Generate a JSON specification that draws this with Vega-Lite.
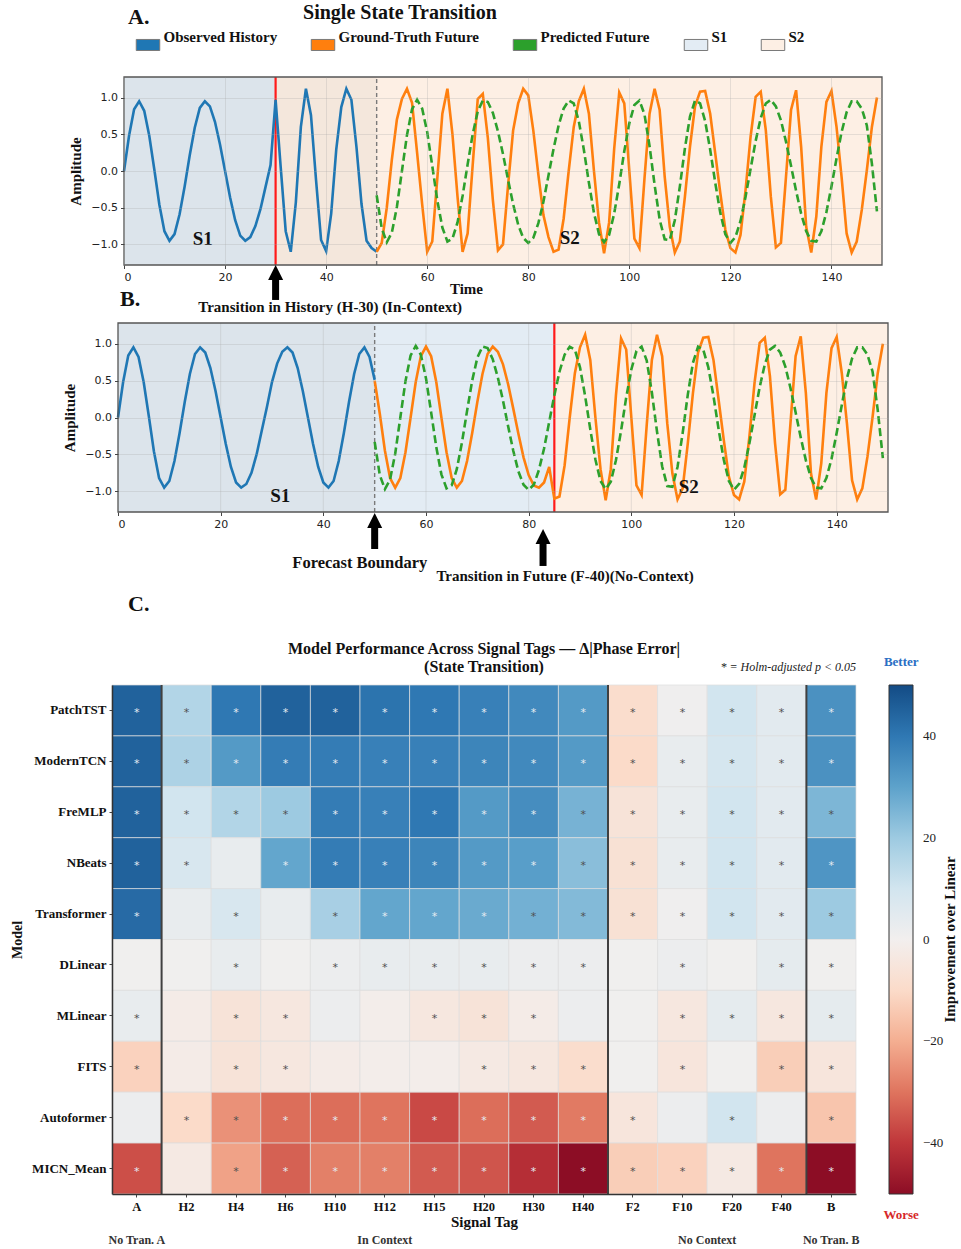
{
  "$schema": "https://vega.github.io/schema/vega-lite/v6.json",
  "background": "white",
  "padding": {"left": 10, "top": 2, "right": 4, "bottom": 4},
  "config": {"view": {"stroke": null}, "font": "Liberation Serif"},
  "bounds": "flush",
  "spacing": 58,
  "resolve": {
    "scale": {"x": "independent", "y": "independent", "color": "independent", "fill": "independent"},
    "legend": {"fill": "independent", "color": "independent"}
  },
  "datasets": {
    "statesA": [{"state": "S1", "start": 0, "end": 30}, {"state": "S2", "start": 30, "end": 150}],
    "statesB": [{"state": "S1", "start": 0, "end": 85}, {"state": "S2", "start": 85, "end": 150}],
    "ticksB": [{"t": 20}, {"t": 40}, {"t": 60}, {"t": 80}, {"t": 100}, {"t": 120}, {"t": 140}],
    "histA": [
      {"t":0,"v":0},{"t":1,"v":0.48},{"t":2,"v":0.84},{"t":3,"v":0.95},{"t":4,"v":0.82},{"t":5,"v":0.48},{"t":6,"v":0.02},{"t":7,"v":-0.46},{"t":8,"v":-0.82},{"t":9,"v":-0.95},
      {"t":10,"v":-0.86},{"t":11,"v":-0.59},{"t":12,"v":-0.21},{"t":13,"v":0.21},{"t":14,"v":0.59},{"t":15,"v":0.86},{"t":16,"v":0.95},{"t":17,"v":0.88},{"t":18,"v":0.67},{"t":19,"v":0.36},
      {"t":20,"v":0},{"t":21,"v":-0.36},{"t":22,"v":-0.67},{"t":23,"v":-0.88},{"t":24,"v":-0.95},{"t":25,"v":-0.9},{"t":26,"v":-0.75},{"t":27,"v":-0.52},{"t":28,"v":-0.22},{"t":29,"v":0.08},
      {"t":30,"v":0.97},{"t":31,"v":0.06},{"t":32,"v":-0.82},{"t":33,"v":-1.1},{"t":34,"v":-0.43},{"t":35,"v":0.6},{"t":36,"v":1.12},{"t":37,"v":0.76},{"t":38,"v":-0.12},{"t":39,"v":-0.94},
      {"t":40,"v":-1.09},{"t":41,"v":-0.58},{"t":42,"v":0.29},{"t":43,"v":0.87},{"t":44,"v":1.12},{"t":45,"v":0.97},{"t":46,"v":0.33},{"t":47,"v":-0.45},{"t":48,"v":-0.95},{"t":49,"v":-1.05},
      {"t":50,"v":-1.1}
    ],
    "histB": [
      {"t":0,"v":0},{"t":1,"v":0.48},{"t":2,"v":0.84},{"t":3,"v":0.95},{"t":4,"v":0.82},{"t":5,"v":0.48},{"t":6,"v":0.02},{"t":7,"v":-0.46},{"t":8,"v":-0.82},{"t":9,"v":-0.95},
      {"t":10,"v":-0.86},{"t":11,"v":-0.59},{"t":12,"v":-0.21},{"t":13,"v":0.21},{"t":14,"v":0.59},{"t":15,"v":0.86},{"t":16,"v":0.95},{"t":17,"v":0.88},{"t":18,"v":0.67},{"t":19,"v":0.36},
      {"t":20,"v":0},{"t":21,"v":-0.36},{"t":22,"v":-0.67},{"t":23,"v":-0.88},{"t":24,"v":-0.95},{"t":25,"v":-0.9},{"t":26,"v":-0.75},{"t":27,"v":-0.5},{"t":28,"v":-0.18},{"t":29,"v":0.14},
      {"t":30,"v":0.48},{"t":31,"v":0.73},{"t":32,"v":0.89},{"t":33,"v":0.95},{"t":34,"v":0.88},{"t":35,"v":0.67},{"t":36,"v":0.36},{"t":37,"v":0},{"t":38,"v":-0.36},{"t":39,"v":-0.67},
      {"t":40,"v":-0.88},{"t":41,"v":-0.95},{"t":42,"v":-0.86},{"t":43,"v":-0.59},{"t":44,"v":-0.21},{"t":45,"v":0.21},{"t":46,"v":0.59},{"t":47,"v":0.86},{"t":48,"v":0.95},{"t":49,"v":0.82},
      {"t":50,"v":0.51}
    ],
    "truthA": [
      {"t":50,"v":-1.1},{"t":51,"v":-0.98},{"t":52,"v":-0.5},{"t":53,"v":0.15},{"t":54,"v":0.7},{"t":55,"v":0.98},{"t":56,"v":1.12},{"t":57,"v":0.93},{"t":58,"v":0.25},{"t":59,"v":-0.45},
      {"t":60,"v":-1.1},{"t":61,"v":-0.96},{"t":62,"v":-0.1},{"t":63,"v":0.78},{"t":64,"v":1.12},{"t":65,"v":0.5},{"t":66,"v":-0.35},{"t":67,"v":-1.1},{"t":68,"v":-0.85},{"t":69,"v":0.08},
      {"t":70,"v":0.98},{"t":71,"v":1.05},{"t":72,"v":0.45},{"t":73,"v":-0.4},{"t":74,"v":-1.08},{"t":75,"v":-1.0},{"t":76,"v":-0.2},{"t":77,"v":0.55},{"t":78,"v":0.92},{"t":79,"v":1.12},
      {"t":80,"v":1.03},{"t":81,"v":0.55},{"t":82,"v":-0.05},{"t":83,"v":-0.6},{"t":84,"v":-0.9},{"t":85,"v":-1.1},{"t":86,"v":-1.07},{"t":87,"v":-0.65},{"t":88,"v":0},{"t":89,"v":0.6},
      {"t":90,"v":0.95},{"t":91,"v":1.12},{"t":92,"v":0.78},{"t":93,"v":0},{"t":94,"v":-0.7},{"t":95,"v":-1.12},{"t":96,"v":-0.7},{"t":97,"v":0.3},{"t":98,"v":1.07},{"t":99,"v":0.92},
      {"t":100,"v":0},{"t":101,"v":-0.92},{"t":102,"v":-1.05},{"t":103,"v":-0.1},{"t":104,"v":0.78},{"t":105,"v":1.12},{"t":106,"v":0.83},{"t":107,"v":-0.08},{"t":108,"v":-0.76},{"t":109,"v":-1.11},
      {"t":110,"v":-0.96},{"t":111,"v":-0.35},{"t":112,"v":0.33},{"t":113,"v":0.88},{"t":114,"v":1.08},{"t":115,"v":1.09},{"t":116,"v":0.78},{"t":117,"v":0.24},{"t":118,"v":-0.3},{"t":119,"v":-0.8},
      {"t":120,"v":-1.05},{"t":121,"v":-1.11},{"t":122,"v":-0.87},{"t":123,"v":-0.26},{"t":124,"v":0.47},{"t":125,"v":1.01},{"t":126,"v":1.08},{"t":127,"v":0.56},{"t":128,"v":-0.35},{"t":129,"v":-1.04},
      {"t":130,"v":-0.98},{"t":131,"v":-0.08},{"t":132,"v":0.83},{"t":133,"v":1.1},{"t":134,"v":0.33},{"t":135,"v":-0.76},{"t":136,"v":-1.11},{"t":137,"v":-0.62},{"t":138,"v":0.33},{"t":139,"v":0.94},
      {"t":140,"v":1.09},{"t":141,"v":0.6},{"t":142,"v":-0.08},{"t":143,"v":-0.85},{"t":144,"v":-1.11},{"t":145,"v":-0.96},{"t":146,"v":-0.53},{"t":147,"v":0.01},{"t":148,"v":0.6},{"t":149,"v":1.0}
    ],
    "truthB": [
      {"t":50,"v":0.5},{"t":51,"v":0.05},{"t":52,"v":-0.45},{"t":53,"v":-0.82},{"t":54,"v":-0.95},{"t":55,"v":-0.82},{"t":56,"v":-0.47},{"t":57,"v":0},{"t":58,"v":0.48},{"t":59,"v":0.83},
      {"t":60,"v":0.96},{"t":61,"v":0.83},{"t":62,"v":0.48},{"t":63,"v":0},{"t":64,"v":-0.47},{"t":65,"v":-0.82},{"t":66,"v":-0.95},{"t":67,"v":-0.86},{"t":68,"v":-0.59},{"t":69,"v":-0.21},
      {"t":70,"v":0.21},{"t":71,"v":0.59},{"t":72,"v":0.86},{"t":73,"v":0.96},{"t":74,"v":0.89},{"t":75,"v":0.72},{"t":76,"v":0.45},{"t":77,"v":0.12},{"t":78,"v":-0.22},{"t":79,"v":-0.54},
      {"t":80,"v":-0.78},{"t":81,"v":-0.92},{"t":82,"v":-0.95},{"t":83,"v":-0.88},{"t":84,"v":-0.67},{"t":85,"v":-1.1},{"t":86,"v":-1.07},{"t":87,"v":-0.65},{"t":88,"v":0},{"t":89,"v":0.6},
      {"t":90,"v":0.95},{"t":91,"v":1.12},{"t":92,"v":0.78},{"t":93,"v":0},{"t":94,"v":-0.7},{"t":95,"v":-1.12},{"t":96,"v":-0.7},{"t":97,"v":0.3},{"t":98,"v":1.07},{"t":99,"v":0.92},
      {"t":100,"v":0},{"t":101,"v":-0.92},{"t":102,"v":-1.05},{"t":103,"v":-0.1},{"t":104,"v":0.78},{"t":105,"v":1.12},{"t":106,"v":0.83},{"t":107,"v":-0.08},{"t":108,"v":-0.76},{"t":109,"v":-1.11},
      {"t":110,"v":-0.96},{"t":111,"v":-0.35},{"t":112,"v":0.33},{"t":113,"v":0.88},{"t":114,"v":1.08},{"t":115,"v":1.09},{"t":116,"v":0.78},{"t":117,"v":0.24},{"t":118,"v":-0.3},{"t":119,"v":-0.8},
      {"t":120,"v":-1.05},{"t":121,"v":-1.11},{"t":122,"v":-0.87},{"t":123,"v":-0.26},{"t":124,"v":0.47},{"t":125,"v":1.01},{"t":126,"v":1.08},{"t":127,"v":0.56},{"t":128,"v":-0.35},{"t":129,"v":-1.04},
      {"t":130,"v":-0.98},{"t":131,"v":-0.08},{"t":132,"v":0.83},{"t":133,"v":1.1},{"t":134,"v":0.33},{"t":135,"v":-0.76},{"t":136,"v":-1.11},{"t":137,"v":-0.62},{"t":138,"v":0.33},{"t":139,"v":0.94},
      {"t":140,"v":1.09},{"t":141,"v":0.6},{"t":142,"v":-0.08},{"t":143,"v":-0.85},{"t":144,"v":-1.11},{"t":145,"v":-0.96},{"t":146,"v":-0.53},{"t":147,"v":0.01},{"t":148,"v":0.6},{"t":149,"v":1.0}
    ],
    "pred": [
      {"t":50,"v":-0.33},{"t":51,"v":-0.78},{"t":52,"v":-0.97},{"t":53,"v":-0.84},{"t":54,"v":-0.49},{"t":55,"v":0},{"t":56,"v":0.49},{"t":57,"v":0.84},{"t":58,"v":0.97},{"t":59,"v":0.85},
      {"t":60,"v":0.53},{"t":61,"v":0.07},{"t":62,"v":-0.4},{"t":63,"v":-0.77},{"t":64,"v":-0.96},{"t":65,"v":-0.92},{"t":66,"v":-0.7},{"t":67,"v":-0.34},{"t":68,"v":0.09},{"t":69,"v":0.5},
      {"t":70,"v":0.81},{"t":71,"v":0.96},{"t":72,"v":0.94},{"t":73,"v":0.79},{"t":74,"v":0.54},{"t":75,"v":0.23},{"t":76,"v":-0.12},{"t":77,"v":-0.45},{"t":78,"v":-0.73},{"t":79,"v":-0.91},
      {"t":80,"v":-0.98},{"t":81,"v":-0.91},{"t":82,"v":-0.71},{"t":83,"v":-0.42},{"t":84,"v":-0.06},{"t":85,"v":0.3},{"t":86,"v":0.62},{"t":87,"v":0.85},{"t":88,"v":0.96},{"t":89,"v":0.92},
      {"t":90,"v":0.68},{"t":91,"v":0.29},{"t":92,"v":-0.16},{"t":93,"v":-0.57},{"t":94,"v":-0.86},{"t":95,"v":-0.97},{"t":96,"v":-0.87},{"t":97,"v":-0.58},{"t":98,"v":-0.18},{"t":99,"v":0.27},
      {"t":100,"v":0.65},{"t":101,"v":0.9},{"t":102,"v":0.96},{"t":103,"v":0.77},{"t":104,"v":0.34},{"t":105,"v":-0.19},{"t":106,"v":-0.66},{"t":107,"v":-0.93},{"t":108,"v":-0.94},{"t":109,"v":-0.67},
      {"t":110,"v":-0.21},{"t":111,"v":0.31},{"t":112,"v":0.74},{"t":113,"v":0.96},{"t":114,"v":0.92},{"t":115,"v":0.68},{"t":116,"v":0.29},{"t":117,"v":-0.16},{"t":118,"v":-0.57},{"t":119,"v":-0.86},
      {"t":120,"v":-0.98},{"t":121,"v":-0.9},{"t":122,"v":-0.68},{"t":123,"v":-0.35},{"t":124,"v":0.03},{"t":125,"v":0.41},{"t":126,"v":0.72},{"t":127,"v":0.92},{"t":128,"v":0.97},{"t":129,"v":0.88},
      {"t":130,"v":0.69},{"t":131,"v":0.4},{"t":132,"v":0.07},{"t":133,"v":-0.27},{"t":134,"v":-0.58},{"t":135,"v":-0.82},{"t":136,"v":-0.95},{"t":137,"v":-0.96},{"t":138,"v":-0.82},{"t":139,"v":-0.56},
      {"t":140,"v":-0.21},{"t":141,"v":0.17},{"t":142,"v":0.53},{"t":143,"v":0.8},{"t":144,"v":0.95},{"t":145,"v":0.95},{"t":146,"v":0.85},{"t":147,"v":0.62},{"t":148,"v":0.1},{"t":149,"v":-0.55}
    ],
    "heat": [
      {"model":"PatchTST","tag":"A","v":45,"sig":1},{"model":"PatchTST","tag":"H2","v":16,"sig":1},{"model":"PatchTST","tag":"H4","v":40,"sig":1},{"model":"PatchTST","tag":"H6","v":45,"sig":1},{"model":"PatchTST","tag":"H10","v":45,"sig":1},
      {"model":"PatchTST","tag":"H12","v":41,"sig":1},{"model":"PatchTST","tag":"H15","v":40,"sig":1},{"model":"PatchTST","tag":"H20","v":38,"sig":1},{"model":"PatchTST","tag":"H30","v":36,"sig":1},{"model":"PatchTST","tag":"H40","v":32,"sig":1},
      {"model":"PatchTST","tag":"F2","v":-9,"sig":1},{"model":"PatchTST","tag":"F10","v":1,"sig":1},{"model":"PatchTST","tag":"F20","v":10,"sig":1},{"model":"PatchTST","tag":"F40","v":5,"sig":1},{"model":"PatchTST","tag":"B","v":34,"sig":1},
      {"model":"ModernTCN","tag":"A","v":45,"sig":1},{"model":"ModernTCN","tag":"H2","v":17,"sig":1},{"model":"ModernTCN","tag":"H4","v":32,"sig":1},{"model":"ModernTCN","tag":"H6","v":39,"sig":1},{"model":"ModernTCN","tag":"H10","v":39,"sig":1},
      {"model":"ModernTCN","tag":"H12","v":38,"sig":1},{"model":"ModernTCN","tag":"H15","v":38,"sig":1},{"model":"ModernTCN","tag":"H20","v":37,"sig":1},{"model":"ModernTCN","tag":"H30","v":36,"sig":1},{"model":"ModernTCN","tag":"H40","v":32,"sig":1},
      {"model":"ModernTCN","tag":"F2","v":-10,"sig":1},{"model":"ModernTCN","tag":"F10","v":3,"sig":1},{"model":"ModernTCN","tag":"F20","v":9,"sig":1},{"model":"ModernTCN","tag":"F40","v":5,"sig":1},{"model":"ModernTCN","tag":"B","v":34,"sig":1},
      {"model":"FreMLP","tag":"A","v":45,"sig":1},{"model":"FreMLP","tag":"H2","v":10,"sig":1},{"model":"FreMLP","tag":"H4","v":16,"sig":1},{"model":"FreMLP","tag":"H6","v":20,"sig":1},{"model":"FreMLP","tag":"H10","v":39,"sig":1},
      {"model":"FreMLP","tag":"H12","v":38,"sig":1},{"model":"FreMLP","tag":"H15","v":40,"sig":1},{"model":"FreMLP","tag":"H20","v":32,"sig":1},{"model":"FreMLP","tag":"H30","v":35,"sig":1},{"model":"FreMLP","tag":"H40","v":26,"sig":1},
      {"model":"FreMLP","tag":"F2","v":-6,"sig":1},{"model":"FreMLP","tag":"F10","v":3,"sig":1},{"model":"FreMLP","tag":"F20","v":10,"sig":1},{"model":"FreMLP","tag":"F40","v":5,"sig":1},{"model":"FreMLP","tag":"B","v":25,"sig":1},
      {"model":"NBeats","tag":"A","v":45,"sig":1},{"model":"NBeats","tag":"H2","v":8,"sig":1},{"model":"NBeats","tag":"H4","v":3,"sig":0},{"model":"NBeats","tag":"H6","v":29,"sig":1},{"model":"NBeats","tag":"H10","v":39,"sig":1},
      {"model":"NBeats","tag":"H12","v":38,"sig":1},{"model":"NBeats","tag":"H15","v":37,"sig":1},{"model":"NBeats","tag":"H20","v":32,"sig":1},{"model":"NBeats","tag":"H30","v":31,"sig":1},{"model":"NBeats","tag":"H40","v":23,"sig":1},
      {"model":"NBeats","tag":"F2","v":-7,"sig":1},{"model":"NBeats","tag":"F10","v":3,"sig":1},{"model":"NBeats","tag":"F20","v":10,"sig":1},{"model":"NBeats","tag":"F40","v":5,"sig":1},{"model":"NBeats","tag":"B","v":33,"sig":1},
      {"model":"Transformer","tag":"A","v":43,"sig":1},{"model":"Transformer","tag":"H2","v":3,"sig":0},{"model":"Transformer","tag":"H4","v":8,"sig":1},{"model":"Transformer","tag":"H6","v":3,"sig":0},{"model":"Transformer","tag":"H10","v":18,"sig":1},
      {"model":"Transformer","tag":"H12","v":29,"sig":1},{"model":"Transformer","tag":"H15","v":29,"sig":1},{"model":"Transformer","tag":"H20","v":28,"sig":1},{"model":"Transformer","tag":"H30","v":26.5,"sig":1},{"model":"Transformer","tag":"H40","v":24,"sig":1},
      {"model":"Transformer","tag":"F2","v":-7,"sig":1},{"model":"Transformer","tag":"F10","v":1,"sig":1},{"model":"Transformer","tag":"F20","v":10,"sig":1},{"model":"Transformer","tag":"F40","v":5,"sig":1},{"model":"Transformer","tag":"B","v":20,"sig":1},
      {"model":"DLinear","tag":"A","v":0.5,"sig":0},{"model":"DLinear","tag":"H2","v":0.5,"sig":0},{"model":"DLinear","tag":"H4","v":3,"sig":1},{"model":"DLinear","tag":"H6","v":0.5,"sig":0},{"model":"DLinear","tag":"H10","v":2,"sig":1},
      {"model":"DLinear","tag":"H12","v":3,"sig":1},{"model":"DLinear","tag":"H15","v":3,"sig":1},{"model":"DLinear","tag":"H20","v":3,"sig":1},{"model":"DLinear","tag":"H30","v":2,"sig":1},{"model":"DLinear","tag":"H40","v":2,"sig":1},
      {"model":"DLinear","tag":"F2","v":0.5,"sig":0},{"model":"DLinear","tag":"F10","v":2,"sig":1},{"model":"DLinear","tag":"F20","v":0.5,"sig":0},{"model":"DLinear","tag":"F40","v":4,"sig":1},{"model":"DLinear","tag":"B","v":0.5,"sig":1},
      {"model":"MLinear","tag":"A","v":3,"sig":1},{"model":"MLinear","tag":"H2","v":-2,"sig":0},{"model":"MLinear","tag":"H4","v":-6,"sig":1},{"model":"MLinear","tag":"H6","v":-4,"sig":1},{"model":"MLinear","tag":"H10","v":2,"sig":0},
      {"model":"MLinear","tag":"H12","v":-1,"sig":0},{"model":"MLinear","tag":"H15","v":-4,"sig":1},{"model":"MLinear","tag":"H20","v":-6,"sig":1},{"model":"MLinear","tag":"H30","v":-2,"sig":1},{"model":"MLinear","tag":"H40","v":2,"sig":0},
      {"model":"MLinear","tag":"F2","v":0.5,"sig":0},{"model":"MLinear","tag":"F10","v":-4,"sig":1},{"model":"MLinear","tag":"F20","v":4,"sig":1},{"model":"MLinear","tag":"F40","v":-4,"sig":1},{"model":"MLinear","tag":"B","v":4,"sig":1},
      {"model":"FITS","tag":"A","v":-12,"sig":1},{"model":"FITS","tag":"H2","v":-2,"sig":0},{"model":"FITS","tag":"H4","v":-6,"sig":1},{"model":"FITS","tag":"H6","v":-4,"sig":1},{"model":"FITS","tag":"H10","v":-2,"sig":0},
      {"model":"FITS","tag":"H12","v":-1,"sig":0},{"model":"FITS","tag":"H15","v":-1,"sig":0},{"model":"FITS","tag":"H20","v":-3,"sig":1},{"model":"FITS","tag":"H30","v":-4,"sig":1},{"model":"FITS","tag":"H40","v":-9,"sig":1},
      {"model":"FITS","tag":"F2","v":0.5,"sig":0},{"model":"FITS","tag":"F10","v":-5,"sig":1},{"model":"FITS","tag":"F20","v":0.5,"sig":0},{"model":"FITS","tag":"F40","v":-13,"sig":1},{"model":"FITS","tag":"B","v":-5,"sig":1},
      {"model":"Autoformer","tag":"A","v":2,"sig":0},{"model":"Autoformer","tag":"H2","v":-10,"sig":1},{"model":"Autoformer","tag":"H4","v":-25,"sig":1},{"model":"Autoformer","tag":"H6","v":-31,"sig":1},{"model":"Autoformer","tag":"H10","v":-31,"sig":1},
      {"model":"Autoformer","tag":"H12","v":-30,"sig":1},{"model":"Autoformer","tag":"H15","v":-37,"sig":1},{"model":"Autoformer","tag":"H20","v":-31,"sig":1},{"model":"Autoformer","tag":"H30","v":-34,"sig":1},{"model":"Autoformer","tag":"H40","v":-29,"sig":1},
      {"model":"Autoformer","tag":"F2","v":-5,"sig":1},{"model":"Autoformer","tag":"F10","v":2,"sig":0},{"model":"Autoformer","tag":"F20","v":10,"sig":1},{"model":"Autoformer","tag":"F40","v":2,"sig":0},{"model":"Autoformer","tag":"B","v":-15,"sig":1},
      {"model":"MICN_Mean","tag":"A","v":-36,"sig":1},{"model":"MICN_Mean","tag":"H2","v":-3,"sig":0},{"model":"MICN_Mean","tag":"H4","v":-22,"sig":1},{"model":"MICN_Mean","tag":"H6","v":-33,"sig":1},{"model":"MICN_Mean","tag":"H10","v":-28,"sig":1},
      {"model":"MICN_Mean","tag":"H12","v":-28,"sig":1},{"model":"MICN_Mean","tag":"H15","v":-34,"sig":1},{"model":"MICN_Mean","tag":"H20","v":-35,"sig":1},{"model":"MICN_Mean","tag":"H30","v":-42,"sig":1},{"model":"MICN_Mean","tag":"H40","v":-50,"sig":1},
      {"model":"MICN_Mean","tag":"F2","v":-13,"sig":1},{"model":"MICN_Mean","tag":"F10","v":-12,"sig":1},{"model":"MICN_Mean","tag":"F20","v":-3,"sig":1},{"model":"MICN_Mean","tag":"F40","v":-30,"sig":1},{"model":"MICN_Mean","tag":"B","v":-50,"sig":1}
    ]
  },
  "vconcat": [
    {
      "width": 770,
      "height": 188,
      "layer": [
        {
          "data": {"name": "histA"},
          "mark": {"type": "line", "color": "#1f77b4", "strokeWidth": 2.6, "opacity": 0},
          "encoding": {
            "x": {
              "field": "t", "type": "quantitative", "scale": {"domain": [0, 150], "range": [12, 770], "nice": false, "zero": false},
              "axis": {"values": [0, 20, 40, 60, 80, 100, 120, 140], "format": "d", "labelFont": "DejaVu Sans", "labelFontSize": 11, "labelColor": "#222222", "tickSize": 3.5, "tickColor": "#444444", "labelPadding": 2.5, "domain": false, "grid": true, "gridColor": "#a8a8a8", "gridOpacity": 0.35, "gridWidth": 0.8, "zindex": 1,
                       "title": "Time", "titleFont": "Liberation Serif", "titleFontWeight": "bold", "titleFontSize": 15, "titleColor": "#111111", "titleX": 354, "titleY": 23, "titleBaseline": "middle"}
            },
            "y": {
              "field": "v", "type": "quantitative", "scale": {"domain": [-1.28, 1.28], "nice": false, "zero": false},
              "axis": {"values": [-1, -0.5, 0, 0.5, 1], "format": ".1f", "offset": -12, "labelFont": "DejaVu Sans", "labelFontSize": 11, "labelColor": "#222222", "tickSize": 3.5, "tickColor": "#444444", "labelPadding": 3, "domain": false, "grid": true, "gridColor": "#a8a8a8", "gridOpacity": 0.35, "gridWidth": 0.8, "zindex": 1,
                       "title": "Amplitude", "titleFont": "Liberation Serif", "titleFontWeight": "bold", "titleFontSize": 15, "titleColor": "#111111", "titlePadding": 7}
            }
          }
        },
        {
          "data": {"name": "statesA"},
          "mark": {"type": "rect"},
          "encoding": {
            "x": {"field": "start", "type": "quantitative", "scale": {"domain": [0, 150], "range": [12, 770], "nice": false, "zero": false}},
            "x2": {"field": "end"},
            "y": {"datum": -1.28, "type": "quantitative", "scale": {"domain": [-1.28, 1.28], "nice": false, "zero": false}},
            "y2": {"datum": 1.28},
            "fill": {
              "field": "state", "type": "nominal",
              "scale": {"domain": ["Observed History", "Ground-Truth Future", "Predicted Future", "S1", "S2"], "range": ["#1f77b4", "#ff7f0e", "#2ca02c", "#e3ecf4", "#fdefe4"]},
              "legend": {
                "orient": "none", "legendX": 23.5, "legendY": -45, "direction": "horizontal", "title": null, "padding": 0,
                "symbolType": "M-1,-0.47L1,-0.47L1,0.47L-1,0.47Z", "symbolSize": 552, "symbolStrokeColor": "#7a7a7a", "symbolStrokeWidth": 1, "symbolOpacity": 1,
                "labelFont": "Liberation Serif", "labelFontWeight": "bold", "labelFontSize": 15, "labelColor": "#111111", "labelBaseline": "bottom", "labelOffset": 3, "labelLimit": 300,
                "columnPadding": 31
              }
            }
          }
        },
        {
          "data": {"values": [{}]},
          "mark": {"type": "rect", "color": "#808080", "opacity": 0.07},
          "encoding": {
            "x": {"datum": 0, "type": "quantitative", "scale": {"domain": [0, 150], "range": [12, 770], "nice": false, "zero": false}},
            "x2": {"datum": 50},
            "y": {"datum": -1.28, "type": "quantitative", "scale": {"domain": [-1.28, 1.28], "nice": false, "zero": false}},
            "y2": {"datum": 1.28}
          }
        },
        {
          "data": {"values": [{}]},
          "mark": {"type": "rule", "color": "#ff1a1a", "strokeWidth": 2.2},
          "encoding": {
            "x": {"datum": 30, "type": "quantitative", "scale": {"domain": [0, 150], "range": [12, 770], "nice": false, "zero": false}},
            "y": {"datum": -1.28, "type": "quantitative", "scale": {"domain": [-1.28, 1.28], "nice": false, "zero": false}},
            "y2": {"datum": 1.28}
          }
        },
        {
          "data": {"values": [{}]},
          "mark": {"type": "rule", "color": "#7a7a7a", "strokeWidth": 1.4, "strokeDash": [4, 3]},
          "encoding": {
            "x": {"datum": 50, "type": "quantitative", "scale": {"domain": [0, 150], "range": [12, 770], "nice": false, "zero": false}},
            "y": {"datum": -1.28, "type": "quantitative", "scale": {"domain": [-1.28, 1.28], "nice": false, "zero": false}},
            "y2": {"datum": 1.28}
          }
        },
        {
          "data": {"name": "histA"},
          "mark": {"type": "line", "color": "#1f77b4", "strokeWidth": 2.6},
          "encoding": {
            "x": {"field": "t", "type": "quantitative", "scale": {"domain": [0, 150], "range": [12, 770], "nice": false, "zero": false}},
            "y": {"field": "v", "type": "quantitative", "scale": {"domain": [-1.28, 1.28], "nice": false, "zero": false}}
          }
        },
        {
          "data": {"name": "truthA"},
          "mark": {"type": "line", "color": "#ff7f0e", "strokeWidth": 2.6},
          "encoding": {
            "x": {"field": "t", "type": "quantitative", "scale": {"domain": [0, 150], "range": [12, 770], "nice": false, "zero": false}},
            "y": {"field": "v", "type": "quantitative", "scale": {"domain": [-1.28, 1.28], "nice": false, "zero": false}}
          }
        },
        {
          "data": {"name": "pred"},
          "mark": {"type": "line", "color": "#2ca02c", "strokeWidth": 2.6, "strokeDash": [8, 4]},
          "encoding": {
            "x": {"field": "t", "type": "quantitative", "scale": {"domain": [0, 150], "range": [12, 770], "nice": false, "zero": false}},
            "y": {"field": "v", "type": "quantitative", "scale": {"domain": [-1.28, 1.28], "nice": false, "zero": false}}
          }
        },
        {
          "data": {"values": [{}]},
          "mark": {"type": "rect", "filled": false, "color": "#555555", "strokeWidth": 1.3},
          "encoding": {
            "x": {"datum": 0, "type": "quantitative", "scale": {"domain": [0, 150], "range": [12, 770], "nice": false, "zero": false}},
            "x2": {"datum": 150},
            "y": {"datum": -1.28, "type": "quantitative", "scale": {"domain": [-1.28, 1.28], "nice": false, "zero": false}},
            "y2": {"datum": 1.28}
          }
        },
        {
          "data": {"values": [{}]},
          "mark": {"type": "text", "text": "S1", "font": "Liberation Serif", "fontWeight": "bold", "fontSize": 19, "color": "#111111", "baseline": "middle"},
          "encoding": {
            "x": {"datum": 15.6, "type": "quantitative", "scale": {"domain": [0, 150], "range": [12, 770], "nice": false, "zero": false}},
            "y": {"datum": -0.93, "type": "quantitative", "scale": {"domain": [-1.28, 1.28], "nice": false, "zero": false}}
          }
        },
        {
          "data": {"values": [{}]},
          "mark": {"type": "text", "text": "S2", "font": "Liberation Serif", "fontWeight": "bold", "fontSize": 19, "color": "#111111", "baseline": "middle"},
          "encoding": {
            "x": {"datum": 88.2, "type": "quantitative", "scale": {"domain": [0, 150], "range": [12, 770], "nice": false, "zero": false}},
            "y": {"datum": -0.91, "type": "quantitative", "scale": {"domain": [-1.28, 1.28], "nice": false, "zero": false}}
          }
        },
        {
          "data": {"values": [{}]},
          "mark": {"type": "text", "text": "Single State Transition", "font": "Liberation Serif", "fontWeight": "bold", "fontSize": 20, "color": "#111111", "baseline": "middle", "align": "center"},
          "encoding": {
            "x": {"datum": 54.6, "type": "quantitative", "scale": {"domain": [0, 150], "range": [12, 770], "nice": false, "zero": false}},
            "y": {"datum": 2.158, "type": "quantitative", "scale": {"domain": [-1.28, 1.28], "nice": false, "zero": false}}
          }
        },
        {
          "data": {"values": [{}]},
          "mark": {"type": "text", "text": "A.", "font": "Liberation Serif", "fontWeight": "bold", "fontSize": 22, "color": "#111111", "baseline": "middle", "align": "left"},
          "encoding": {
            "x": {"datum": 0.8, "type": "quantitative", "scale": {"domain": [0, 150], "range": [12, 770], "nice": false, "zero": false}},
            "y": {"datum": 2.1, "type": "quantitative", "scale": {"domain": [-1.28, 1.28], "nice": false, "zero": false}}
          }
        },
        {
          "data": {"values": [{}]},
          "mark": {"type": "rule", "color": "#000000", "strokeWidth": 7},
          "encoding": {
            "x": {"datum": 30, "type": "quantitative", "scale": {"domain": [0, 150], "range": [12, 770], "nice": false, "zero": false}},
            "y": {"datum": -1.42, "type": "quantitative", "scale": {"domain": [-1.28, 1.28], "nice": false, "zero": false}},
            "y2": {"datum": -1.756}
          }
        },
        {
          "data": {"values": [{}]},
          "mark": {"type": "point", "shape": "M0,-1L1,1L-1,1Z", "filled": true, "color": "#000000", "opacity": 1, "size": 225},
          "encoding": {
            "x": {"datum": 30, "type": "quantitative", "scale": {"domain": [0, 150], "range": [12, 770], "nice": false, "zero": false}},
            "y": {"datum": -1.382, "type": "quantitative", "scale": {"domain": [-1.28, 1.28], "nice": false, "zero": false}}
          }
        },
        {
          "data": {"values": [{}]},
          "mark": {"type": "text", "text": "Transition in History (H-30) (In-Context)", "font": "Liberation Serif", "fontWeight": "bold", "fontSize": 15, "color": "#111111", "baseline": "middle", "align": "center"},
          "encoding": {
            "x": {"datum": 40.8, "type": "quantitative", "scale": {"domain": [0, 150], "range": [12, 770], "nice": false, "zero": false}},
            "y": {"datum": -1.852, "type": "quantitative", "scale": {"domain": [-1.28, 1.28], "nice": false, "zero": false}}
          }
        }
      ]
    },
    {
      "width": 776,
      "height": 304,
      "layer": [
        {
          "data": {"name": "histB"},
          "mark": {"type": "line", "color": "#1f77b4", "strokeWidth": 2.6, "opacity": 0},
          "encoding": {
            "x": {
              "field": "t", "type": "quantitative", "scale": {"domain": [0, 150], "range": [6, 776], "nice": false, "zero": false},
              "axis": {"values": [0, 20, 40, 60, 80, 100, 120, 140], "format": "d", "offset": -115, "labelFont": "DejaVu Sans", "labelFontSize": 11, "labelColor": "#222222", "tickSize": 3.5, "tickColor": "#444444", "labelPadding": 2.5, "domain": false, "grid": false, "zindex": 1, "title": null}
            },
            "y": {
              "field": "v", "type": "quantitative", "scale": {"domain": [-1.28, 1.28], "range": [189, 0], "nice": false, "zero": false},
              "axis": {"values": [-1, -0.5, 0, 0.5, 1], "format": ".1f", "offset": -6, "labelFont": "DejaVu Sans", "labelFontSize": 11, "labelColor": "#222222", "tickSize": 3.5, "tickColor": "#444444", "labelPadding": 3, "domain": false, "grid": true, "gridColor": "#a8a8a8", "gridOpacity": 0.35, "gridWidth": 0.8, "zindex": 1,
                       "title": "Amplitude", "titleFont": "Liberation Serif", "titleFontWeight": "bold", "titleFontSize": 15, "titleColor": "#111111", "titlePadding": 7}
            }
          }
        },
        {
          "data": {"name": "statesB"},
          "mark": {"type": "rect"},
          "encoding": {
            "x": {"field": "start", "type": "quantitative", "scale": {"domain": [0, 150], "range": [6, 776], "nice": false, "zero": false}},
            "x2": {"field": "end"},
            "y": {"datum": -1.28, "type": "quantitative", "scale": {"domain": [-1.28, 1.28], "range": [189, 0], "nice": false, "zero": false}},
            "y2": {"datum": 1.28},
            "fill": {"field": "state", "type": "nominal", "scale": {"domain": ["S1", "S2"], "range": ["#e3ecf4", "#fdefe4"]}, "legend": null}
          }
        },
        {
          "data": {"values": [{}]},
          "mark": {"type": "rect", "color": "#808080", "opacity": 0.07},
          "encoding": {
            "x": {"datum": 0, "type": "quantitative", "scale": {"domain": [0, 150], "range": [6, 776], "nice": false, "zero": false}},
            "x2": {"datum": 50},
            "y": {"datum": -1.28, "type": "quantitative", "scale": {"domain": [-1.28, 1.28], "range": [189, 0], "nice": false, "zero": false}},
            "y2": {"datum": 1.28}
          }
        },
        {
          "data": {"name": "ticksB"},
          "mark": {"type": "rule", "color": "#a8a8a8", "opacity": 0.35, "strokeWidth": 0.8},
          "encoding": {
            "x": {"field": "t", "type": "quantitative", "scale": {"domain": [0, 150], "range": [6, 776], "nice": false, "zero": false}},
            "y": {"datum": -1.28, "type": "quantitative", "scale": {"domain": [-1.28, 1.28], "range": [189, 0], "nice": false, "zero": false}},
            "y2": {"datum": 1.28}
          }
        },
        {
          "data": {"values": [{}]},
          "mark": {"type": "rule", "color": "#ff1a1a", "strokeWidth": 2.2},
          "encoding": {
            "x": {"datum": 85, "type": "quantitative", "scale": {"domain": [0, 150], "range": [6, 776], "nice": false, "zero": false}},
            "y": {"datum": -1.28, "type": "quantitative", "scale": {"domain": [-1.28, 1.28], "range": [189, 0], "nice": false, "zero": false}},
            "y2": {"datum": 1.28}
          }
        },
        {
          "data": {"values": [{}]},
          "mark": {"type": "rule", "color": "#7a7a7a", "strokeWidth": 1.4, "strokeDash": [4, 3]},
          "encoding": {
            "x": {"datum": 50, "type": "quantitative", "scale": {"domain": [0, 150], "range": [6, 776], "nice": false, "zero": false}},
            "y": {"datum": -1.28, "type": "quantitative", "scale": {"domain": [-1.28, 1.28], "range": [189, 0], "nice": false, "zero": false}},
            "y2": {"datum": 1.28}
          }
        },
        {
          "data": {"name": "histB"},
          "mark": {"type": "line", "color": "#1f77b4", "strokeWidth": 2.6},
          "encoding": {
            "x": {"field": "t", "type": "quantitative", "scale": {"domain": [0, 150], "range": [6, 776], "nice": false, "zero": false}},
            "y": {"field": "v", "type": "quantitative", "scale": {"domain": [-1.28, 1.28], "range": [189, 0], "nice": false, "zero": false}}
          }
        },
        {
          "data": {"name": "truthB"},
          "mark": {"type": "line", "color": "#ff7f0e", "strokeWidth": 2.6},
          "encoding": {
            "x": {"field": "t", "type": "quantitative", "scale": {"domain": [0, 150], "range": [6, 776], "nice": false, "zero": false}},
            "y": {"field": "v", "type": "quantitative", "scale": {"domain": [-1.28, 1.28], "range": [189, 0], "nice": false, "zero": false}}
          }
        },
        {
          "data": {"name": "pred"},
          "mark": {"type": "line", "color": "#2ca02c", "strokeWidth": 2.6, "strokeDash": [8, 4]},
          "encoding": {
            "x": {"field": "t", "type": "quantitative", "scale": {"domain": [0, 150], "range": [6, 776], "nice": false, "zero": false}},
            "y": {"field": "v", "type": "quantitative", "scale": {"domain": [-1.28, 1.28], "range": [189, 0], "nice": false, "zero": false}}
          }
        },
        {
          "data": {"values": [{}]},
          "mark": {"type": "rect", "filled": false, "color": "#555555", "strokeWidth": 1.3},
          "encoding": {
            "x": {"datum": 0, "type": "quantitative", "scale": {"domain": [0, 150], "range": [6, 776], "nice": false, "zero": false}},
            "x2": {"datum": 150},
            "y": {"datum": -1.28, "type": "quantitative", "scale": {"domain": [-1.28, 1.28], "range": [189, 0], "nice": false, "zero": false}},
            "y2": {"datum": 1.28}
          }
        },
        {
          "data": {"values": [{}]},
          "mark": {"type": "text", "text": "S1", "font": "Liberation Serif", "fontWeight": "bold", "fontSize": 19, "color": "#111111", "baseline": "middle"},
          "encoding": {
            "x": {"datum": 31.6, "type": "quantitative", "scale": {"domain": [0, 150], "range": [6, 776], "nice": false, "zero": false}},
            "y": {"datum": -1.06, "type": "quantitative", "scale": {"domain": [-1.28, 1.28], "range": [189, 0], "nice": false, "zero": false}}
          }
        },
        {
          "data": {"values": [{}]},
          "mark": {"type": "text", "text": "S2", "font": "Liberation Serif", "fontWeight": "bold", "fontSize": 19, "color": "#111111", "baseline": "middle"},
          "encoding": {
            "x": {"datum": 111.2, "type": "quantitative", "scale": {"domain": [0, 150], "range": [6, 776], "nice": false, "zero": false}},
            "y": {"datum": -0.94, "type": "quantitative", "scale": {"domain": [-1.28, 1.28], "range": [189, 0], "nice": false, "zero": false}}
          }
        },
        {
          "data": {"values": [{}]},
          "mark": {"type": "text", "text": "B.", "font": "Liberation Serif", "fontWeight": "bold", "fontSize": 22, "color": "#111111", "baseline": "middle", "align": "left"},
          "encoding": {
            "x": {"datum": 0.4, "type": "quantitative", "scale": {"domain": [0, 150], "range": [6, 776], "nice": false, "zero": false}},
            "y": {"datum": 1.605, "type": "quantitative", "scale": {"domain": [-1.28, 1.28], "range": [189, 0], "nice": false, "zero": false}}
          }
        },
        {
          "data": {"values": [{}]},
          "mark": {"type": "text", "text": "C.", "font": "Liberation Serif", "fontWeight": "bold", "fontSize": 22, "color": "#111111", "baseline": "middle", "align": "left"},
          "encoding": {
            "x": {"datum": 1.95, "type": "quantitative", "scale": {"domain": [0, 150], "range": [6, 776], "nice": false, "zero": false}},
            "y": {"datum": -2.526, "type": "quantitative", "scale": {"domain": [-1.28, 1.28], "range": [189, 0], "nice": false, "zero": false}}
          }
        },
        {
          "data": {"values": [{}]},
          "mark": {"type": "rule", "color": "#000000", "strokeWidth": 7},
          "encoding": {
            "x": {"datum": 50, "type": "quantitative", "scale": {"domain": [0, 150], "range": [6, 776], "nice": false, "zero": false}},
            "y": {"datum": -1.43, "type": "quantitative", "scale": {"domain": [-1.28, 1.28], "range": [189, 0], "nice": false, "zero": false}},
            "y2": {"datum": -1.781}
          }
        },
        {
          "data": {"values": [{}]},
          "mark": {"type": "point", "shape": "M0,-1L1,1L-1,1Z", "filled": true, "color": "#000000", "opacity": 1, "size": 225},
          "encoding": {
            "x": {"datum": 50, "type": "quantitative", "scale": {"domain": [0, 150], "range": [6, 776], "nice": false, "zero": false}},
            "y": {"datum": -1.395, "type": "quantitative", "scale": {"domain": [-1.28, 1.28], "range": [189, 0], "nice": false, "zero": false}}
          }
        },
        {
          "data": {"values": [{}]},
          "mark": {"type": "rule", "color": "#000000", "strokeWidth": 7},
          "encoding": {
            "x": {"datum": 82.8, "type": "quantitative", "scale": {"domain": [0, 150], "range": [6, 776], "nice": false, "zero": false}},
            "y": {"datum": -1.65, "type": "quantitative", "scale": {"domain": [-1.28, 1.28], "range": [189, 0], "nice": false, "zero": false}},
            "y2": {"datum": -2.011}
          }
        },
        {
          "data": {"values": [{}]},
          "mark": {"type": "point", "shape": "M0,-1L1,1L-1,1Z", "filled": true, "color": "#000000", "opacity": 1, "size": 225},
          "encoding": {
            "x": {"datum": 82.8, "type": "quantitative", "scale": {"domain": [0, 150], "range": [6, 776], "nice": false, "zero": false}},
            "y": {"datum": -1.612, "type": "quantitative", "scale": {"domain": [-1.28, 1.28], "range": [189, 0], "nice": false, "zero": false}}
          }
        },
        {
          "data": {"values": [{}]},
          "mark": {"type": "text", "text": "Forecast Boundary", "font": "Liberation Serif", "fontWeight": "bold", "fontSize": 16.5, "color": "#111111", "baseline": "middle", "align": "center"},
          "encoding": {
            "x": {"datum": 47.1, "type": "quantitative", "scale": {"domain": [0, 150], "range": [6, 776], "nice": false, "zero": false}},
            "y": {"datum": -1.971, "type": "quantitative", "scale": {"domain": [-1.28, 1.28], "range": [189, 0], "nice": false, "zero": false}}
          }
        },
        {
          "data": {"values": [{}]},
          "mark": {"type": "text", "text": "Transition in Future (F-40)(No-Context)", "font": "Liberation Serif", "fontWeight": "bold", "fontSize": 15, "color": "#111111", "baseline": "middle", "align": "center"},
          "encoding": {
            "x": {"datum": 87.1, "type": "quantitative", "scale": {"domain": [0, 150], "range": [6, 776], "nice": false, "zero": false}},
            "y": {"datum": -2.147, "type": "quantitative", "scale": {"domain": [-1.28, 1.28], "range": [189, 0], "nice": false, "zero": false}}
          }
        }
      ]
    },
    {
      "width": 744,
      "height": 509,
      "title": {"text": ["Model Performance Across Signal Tags — Δ|Phase Error|", "(State Transition)"], "font": "Liberation Serif", "fontSize": 16, "fontWeight": "bold", "color": "#111111", "anchor": "middle", "offset": 12, "lineHeight": 18, "dy": 31},
      "data": {"name": "heat"},
      "layer": [
        {
          "mark": {"type": "rect", "stroke": "#dedede", "strokeWidth": 0.7},
          "encoding": {
            "x": {
              "field": "tag", "type": "nominal", "scale": {"domain": ["A","H2","H4","H6","H10","H12","H15","H20","H30","H40","F2","F10","F20","F40","B"], "paddingInner": 0, "paddingOuter": 0},
              "axis": {"labelAngle": 0, "labelFont": "Liberation Serif", "labelFontWeight": "bold", "labelFontSize": 12.5, "labelColor": "#111111", "tickSize": 3, "tickColor": "#444444", "labelPadding": 3, "domain": true, "domainColor": "#333333", "domainWidth": 1.5, "zindex": 1,
                       "title": "Signal Tag", "titleFont": "Liberation Serif", "titleFontSize": 15, "titleFontWeight": "bold", "titleColor": "#111111", "titlePadding": 2}
            },
            "y": {
              "field": "model", "type": "nominal", "scale": {"domain": ["PatchTST","ModernTCN","FreMLP","NBeats","Transformer","DLinear","MLinear","FITS","Autoformer","MICN_Mean"], "paddingInner": 0, "paddingOuter": 0},
              "axis": {"labelFont": "Liberation Serif", "labelFontWeight": "bold", "labelFontSize": 13, "labelColor": "#111111", "tickSize": 3, "tickColor": "#444444", "labelPadding": 3, "domain": true, "domainColor": "#333333", "domainWidth": 1.5, "zindex": 1,
                       "title": "Model", "titleFont": "Liberation Serif", "titleFontSize": 14, "titleFontWeight": "bold", "titleColor": "#111111", "titlePadding": 7}
            },
            "color": {
              "field": "v", "type": "quantitative", "scale": {"scheme": "redblue", "domain": [-50, 50]},
              "legend": {
                "orient": "none", "legendX": 777, "legendY": 0, "direction": "vertical", "padding": 0,
                "gradientLength": 509, "gradientThickness": 24, "gradientStrokeColor": "#333333", "gradientStrokeWidth": 1,
                "values": [-40, -20, 0, 20, 40], "labelFont": "Liberation Serif", "labelFontSize": 13, "labelColor": "#222222", "labelOffset": 10,
                "title": null
              }
            }
          }
        },
        {
          "transform": [{"filter": "datum.sig == 1"}],
          "mark": {"type": "text", "text": "*", "font": "DejaVu Sans", "fontSize": 11, "baseline": "middle", "dy": 3},
          "encoding": {
            "x": {"field": "tag", "type": "nominal", "scale": {"domain": ["A","H2","H4","H6","H10","H12","H15","H20","H30","H40","F2","F10","F20","F40","B"], "paddingInner": 0, "paddingOuter": 0}},
            "y": {"field": "model", "type": "nominal", "scale": {"domain": ["PatchTST","ModernTCN","FreMLP","NBeats","Transformer","DLinear","MLinear","FITS","Autoformer","MICN_Mean"], "paddingInner": 0, "paddingOuter": 0}},
            "color": {"condition": {"test": "abs(datum.v) >= 27.5", "value": "#e4ebf1"}, "value": "#505050"}
          }
        },
        {
          "data": {"values": [{"tag": "H2"}, {"tag": "F2"}, {"tag": "B"}]},
          "mark": {"type": "rule", "color": "#404040", "strokeWidth": 2},
          "encoding": {
            "x": {"field": "tag", "type": "nominal", "bandPosition": 0, "scale": {"domain": ["A","H2","H4","H6","H10","H12","H15","H20","H30","H40","F2","F10","F20","F40","B"], "paddingInner": 0, "paddingOuter": 0}}
          }
        },
        {
          "data": {"values": [{}]},
          "mark": {"type": "text", "text": "Better", "font": "Liberation Serif", "fontWeight": "bold", "fontSize": 13, "color": "#2a6fc4", "baseline": "middle", "align": "center", "dx": 70, "dy": -48.5},
          "encoding": {
            "x": {"datum": "B", "type": "nominal", "scale": {"domain": ["A","H2","H4","H6","H10","H12","H15","H20","H30","H40","F2","F10","F20","F40","B"], "paddingInner": 0, "paddingOuter": 0}},
            "y": {"datum": "PatchTST", "type": "nominal", "scale": {"domain": ["PatchTST","ModernTCN","FreMLP","NBeats","Transformer","DLinear","MLinear","FITS","Autoformer","MICN_Mean"], "paddingInner": 0, "paddingOuter": 0}}
          }
        },
        {
          "data": {"values": [{}]},
          "mark": {"type": "text", "text": "Worse", "font": "Liberation Serif", "fontWeight": "bold", "fontSize": 13, "color": "#d62728", "baseline": "middle", "align": "center", "dx": 70, "dy": 46.5},
          "encoding": {
            "x": {"datum": "B", "type": "nominal", "scale": {"domain": ["A","H2","H4","H6","H10","H12","H15","H20","H30","H40","F2","F10","F20","F40","B"], "paddingInner": 0, "paddingOuter": 0}},
            "y": {"datum": "MICN_Mean", "type": "nominal", "scale": {"domain": ["PatchTST","ModernTCN","FreMLP","NBeats","Transformer","DLinear","MLinear","FITS","Autoformer","MICN_Mean"], "paddingInner": 0, "paddingOuter": 0}}
          }
        },
        {
          "data": {"values": [{}]},
          "mark": {"type": "text", "text": "Improvement over Linear", "font": "Liberation Serif", "fontWeight": "bold", "fontSize": 15, "color": "#111111", "baseline": "middle", "align": "center", "angle": 270, "dy": 119},
          "encoding": {
            "x": {"datum": "B", "type": "nominal", "scale": {"domain": ["A","H2","H4","H6","H10","H12","H15","H20","H30","H40","F2","F10","F20","F40","B"], "paddingInner": 0, "paddingOuter": 0}},
            "y": {"datum": "DLinear", "type": "nominal", "bandPosition": 0, "scale": {"domain": ["PatchTST","ModernTCN","FreMLP","NBeats","Transformer","DLinear","MLinear","FITS","Autoformer","MICN_Mean"], "paddingInner": 0, "paddingOuter": 0}}
          }
        },
        {
          "data": {"values": [{}]},
          "mark": {"type": "text", "text": "* = Holm-adjusted p < 0.05", "font": "Liberation Serif", "fontStyle": "italic", "fontSize": 12, "color": "#222222", "baseline": "middle", "align": "right", "dy": -43.5},
          "encoding": {
            "x": {"datum": "B", "type": "nominal", "bandPosition": 1, "scale": {"domain": ["A","H2","H4","H6","H10","H12","H15","H20","H30","H40","F2","F10","F20","F40","B"], "paddingInner": 0, "paddingOuter": 0}},
            "y": {"datum": "PatchTST", "type": "nominal", "scale": {"domain": ["PatchTST","ModernTCN","FreMLP","NBeats","Transformer","DLinear","MLinear","FITS","Autoformer","MICN_Mean"], "paddingInner": 0, "paddingOuter": 0}}
          }
        },
        {
          "data": {"values": [{"tag": "A", "group": "No Tran. A"}, {"tag": "H12", "group": "In Context"}, {"tag": "B", "group": "No Tran. B"}]},
          "mark": {"type": "text", "font": "Liberation Serif", "fontWeight": "bold", "fontSize": 12, "color": "#333333", "baseline": "middle", "align": "center", "dy": 71.5},
          "encoding": {
            "x": {"field": "tag", "type": "nominal", "scale": {"domain": ["A","H2","H4","H6","H10","H12","H15","H20","H30","H40","F2","F10","F20","F40","B"], "paddingInner": 0, "paddingOuter": 0}},
            "y": {"datum": "MICN_Mean", "type": "nominal", "scale": {"domain": ["PatchTST","ModernTCN","FreMLP","NBeats","Transformer","DLinear","MLinear","FITS","Autoformer","MICN_Mean"], "paddingInner": 0, "paddingOuter": 0}},
            "text": {"field": "group"}
          }
        },
        {
          "data": {"values": [{"tag": "F20", "group": "No Context"}]},
          "mark": {"type": "text", "font": "Liberation Serif", "fontWeight": "bold", "fontSize": 12, "color": "#333333", "baseline": "middle", "align": "center", "dy": 71.5},
          "encoding": {
            "x": {"field": "tag", "type": "nominal", "bandPosition": 0, "scale": {"domain": ["A","H2","H4","H6","H10","H12","H15","H20","H30","H40","F2","F10","F20","F40","B"], "paddingInner": 0, "paddingOuter": 0}},
            "y": {"datum": "MICN_Mean", "type": "nominal", "scale": {"domain": ["PatchTST","ModernTCN","FreMLP","NBeats","Transformer","DLinear","MLinear","FITS","Autoformer","MICN_Mean"], "paddingInner": 0, "paddingOuter": 0}},
            "text": {"field": "group"}
          }
        }
      ]
    }
  ]
}
